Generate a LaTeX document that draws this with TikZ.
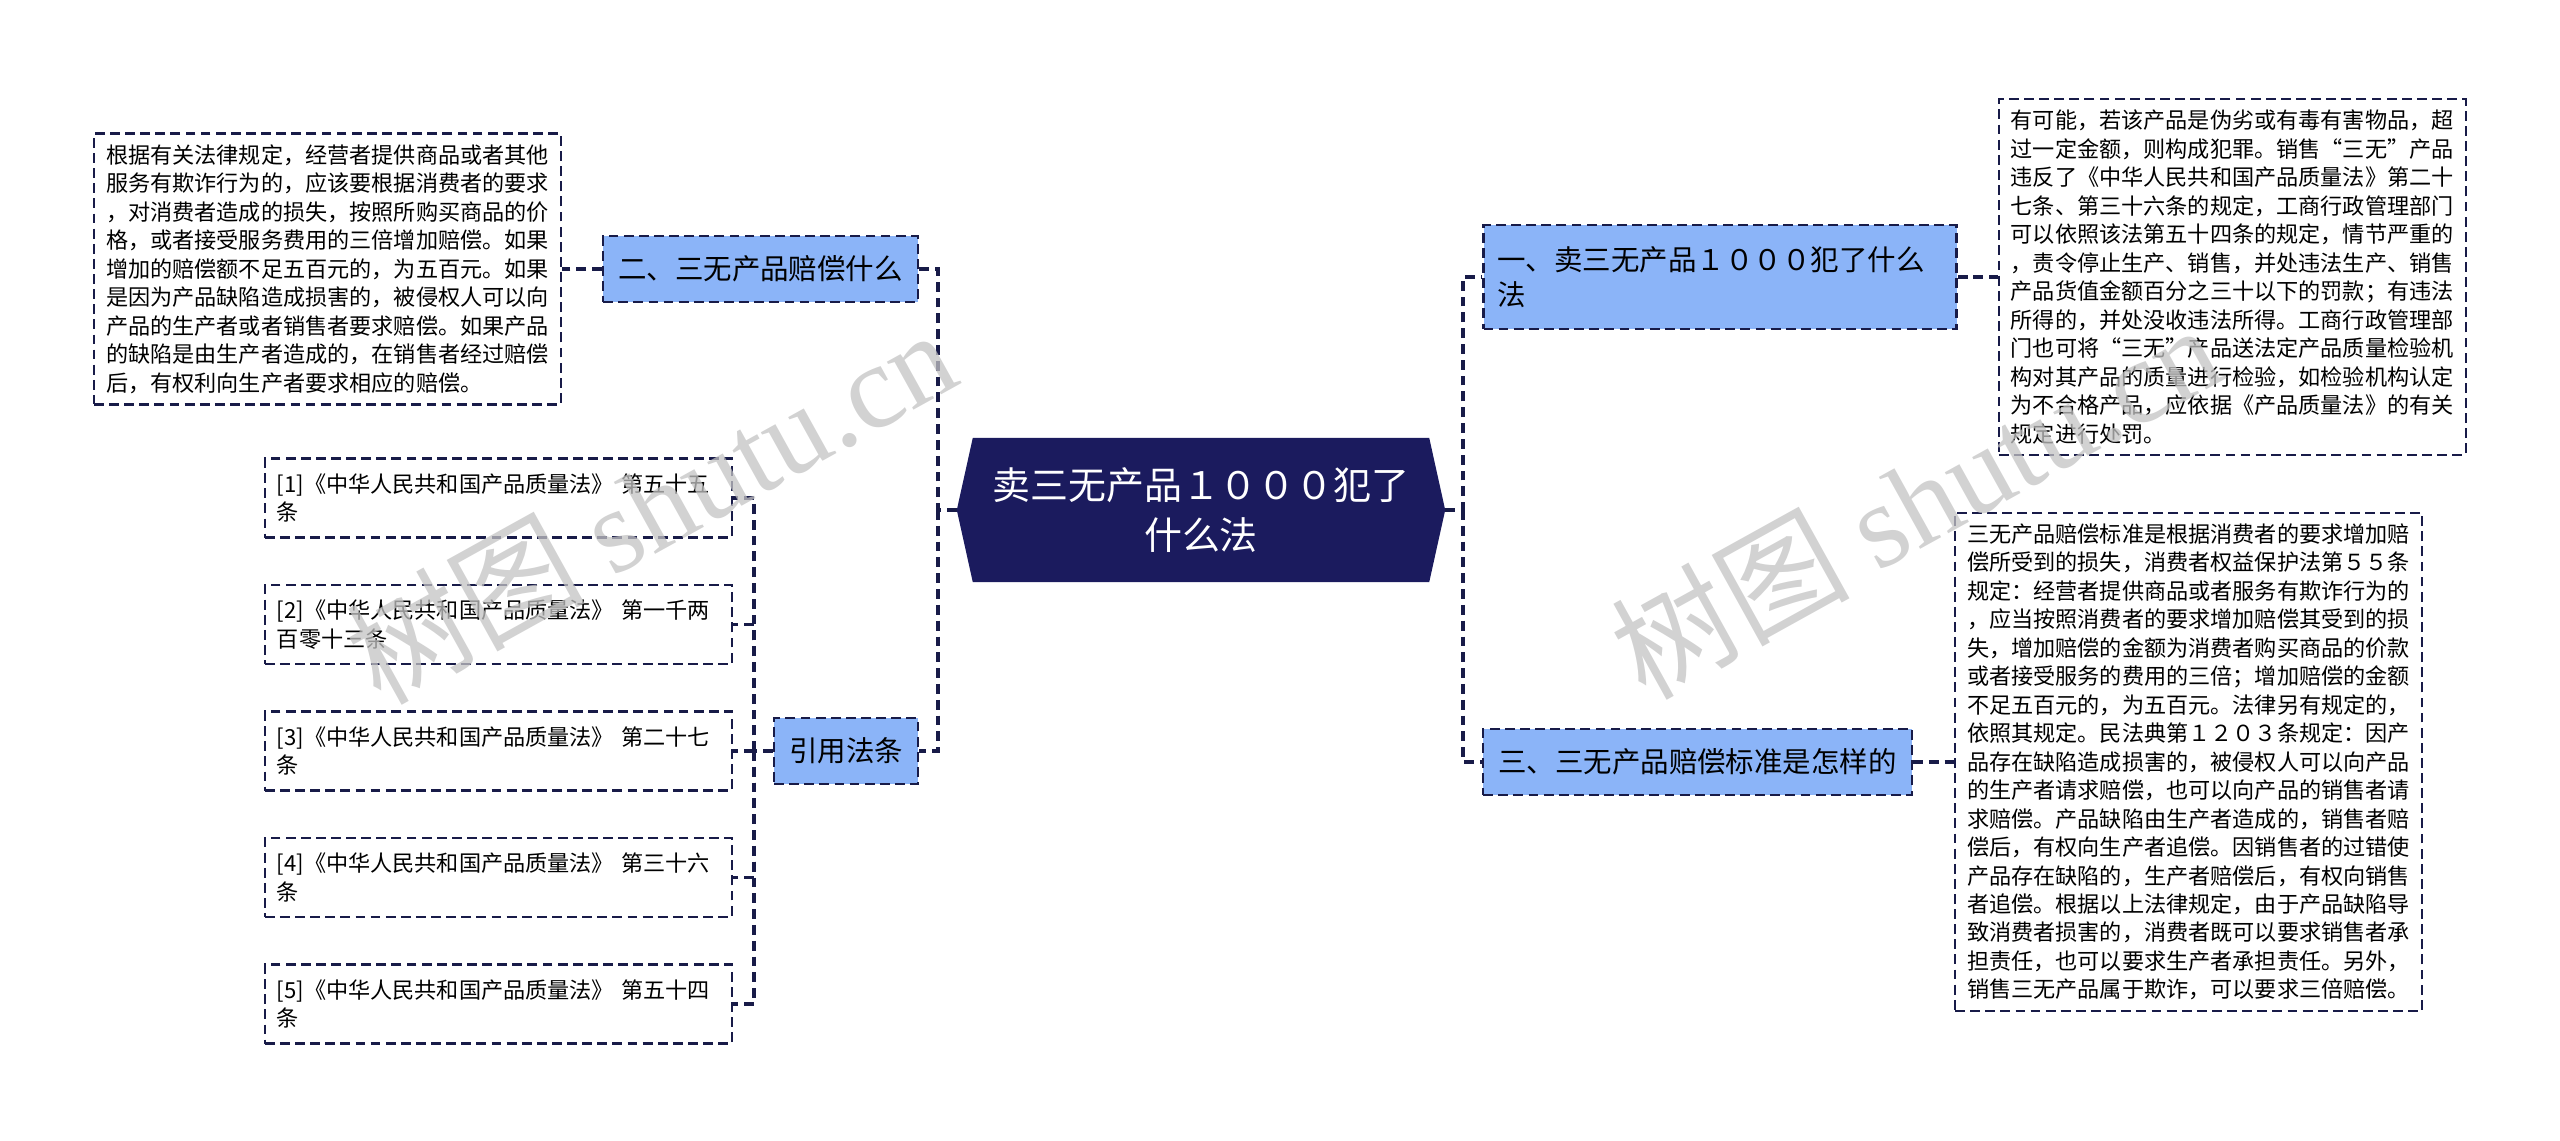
\documentclass[tikz,border=0pt]{standalone}
\usepackage{fontspec}
\setmainfont{Noto Sans CJK SC}
\newfontfamily\markfont{Liberation Serif}
\usetikzlibrary{calc, backgrounds}
\definecolor{cNavy} {RGB}{ 27, 27, 94}
\definecolor{cLine} {RGB}{ 24, 27, 72}
\definecolor{cTopic}{RGB}{139,180,248}
\definecolor{cMark} {RGB}{195,195,195}

\begin{document}
\begin{tikzpicture}[
  x=1cm, y=-1cm,
  %% dashed connector
  link/.style={
    draw=cLine, line width=0.9pt, dash pattern=on 2.8pt off 1.7pt
  },
  %% blue topic box
  topic/.style={
    draw=cLine, line width=0.65pt, dash pattern=on 2.8pt off 1.5pt,
    fill=cTopic, inner xsep=0.15cm, minimum height=0.66cm,
    font=\fontsize{8.1}{10}\selectfont, align=left
  },
  %% dashed text box
  note/.style={
    draw=cLine, line width=0.65pt, dash pattern=on 2.8pt off 1.5pt,
    fill=white, inner xsep=0.12cm, inner ysep=0.11cm,
    font=\fontsize{6.3}{8.1}\selectfont, align=left
  },
  wmark/.style={
    text=cMark, opacity=0.75, font=\fontsize{34}{34}\selectfont
  },
]
\useasboundingbox (0,0) rectangle (25.6,11.4);

%% ── Root ─────────────────────────────────────────────────────────────────────
\def\tip{0.16}     % how far the side points stick out (cm)

\node[minimum width=4.87cm, minimum height=1.43cm, align=center,
      text=white, font=\fontsize{10.8}{14.2}\selectfont]
  (root) at (12.01,5.10) {卖三无产品１０００犯了\\什么法};
\begin{scope}[on background layer]
  \fill[cNavy] (root.west)
    -- ([xshift=\tip cm]root.north west) -- ([xshift=-\tip cm]root.north east)
    -- (root.east)
    -- ([xshift=-\tip cm]root.south east) -- ([xshift=\tip cm]root.south west)
    -- cycle;
\end{scope}

%% ── Topics ───────────────────────────────────────────────────────────────────
\node[topic, text width=4.45cm, minimum height=1.04cm, inner xsep=0.14cm]
  (t1) at (17.20,2.77) {一、卖三无产品１０００犯了什么\\法};
\node[topic] (t2) at (7.605,2.69) {二、三无产品赔偿什么};
\node[topic] (t3) at (16.975,7.62) {三、三无产品赔偿标准是怎样的};
\node[topic] (t4) at (8.46,7.51) {引用法条};

%% ── Text boxes ───────────────────────────────────────────────────────────────
\node[note, anchor=west] (d1) at ([xshift=0.40cm]t1.east) {%
有可能，若该产品是伪劣或有毒有害物品，超\\
过一定金额，则构成犯罪。销售“三无”产品\\
违反了《中华人民共和国产品质量法》第二十\\
七条、第三十六条的规定，工商行政管理部门\\
可以依照该法第五十四条的规定，情节严重的\\
，责令停止生产、销售，并处违法生产、销售\\
产品货值金额百分之三十以下的罚款；有违法\\
所得的，并处没收违法所得。工商行政管理部\\
门也可将“三无”产品送法定产品质量检验机\\
构对其产品的质量进行检验，如检验机构认定\\
为不合格产品，应依据《产品质量法》的有关\\
规定进行处罚。};

\node[note, anchor=east] (d2) at ([xshift=-0.40cm]t2.west) {%
根据有关法律规定，经营者提供商品或者其他\\
服务有欺诈行为的，应该要根据消费者的要求\\
，对消费者造成的损失，按照所购买商品的价\\
格，或者接受服务费用的三倍增加赔偿。如果\\
增加的赔偿额不足五百元的，为五百元。如果\\
是因为产品缺陷造成损害的，被侵权人可以向\\
产品的生产者或者销售者要求赔偿。如果产品\\
的缺陷是由生产者造成的，在销售者经过赔偿\\
后，有权利向生产者要求相应的赔偿。};

\node[note, anchor=west] (d3) at ([xshift=0.41cm]t3.east) {%
三无产品赔偿标准是根据消费者的要求增加赔\\
偿所受到的损失，消费者权益保护法第５５条\\
规定：经营者提供商品或者服务有欺诈行为的\\
，应当按照消费者的要求增加赔偿其受到的损\\
失，增加赔偿的金额为消费者购买商品的价款\\
或者接受服务的费用的三倍；增加赔偿的金额\\
不足五百元的，为五百元。法律另有规定的，\\
依照其规定。民法典第１２０３条规定：因产\\
品存在缺陷造成损害的，被侵权人可以向产品\\
的生产者请求赔偿，也可以向产品的销售者请\\
求赔偿。产品缺陷由生产者造成的，销售者赔\\
偿后，有权向生产者追偿。因销售者的过错使\\
产品存在缺陷的，生产者赔偿后，有权向销售\\
者追偿。根据以上法律规定，由于产品缺陷导\\
致消费者损害的，消费者既可以要求销售者承\\
担责任，也可以要求生产者承担责任。另外，\\
销售三无产品属于欺诈，可以要求三倍赔偿。};

%% ── Cited articles ───────────────────────────────────────────────────────────
\coordinate (jc) at (7.54,7.51);
\foreach \i/\a/\b in {1/第五十五/条, 2/第一千两/百零十三条, 3/第二十七/条,
                      4/第三十六/条, 5/第五十四/条}{
  \node[note, anchor=east, text width=4.43cm, minimum height=0.79cm]
    (c\i) at (7.33,{4.98+(\i-1)*1.265}) {[\i]《中华人民共和国产品质量法》 \a\\\b};
  \draw[link] (jc) |- (c\i.east);
}

%% ── Connectors ───────────────────────────────────────────────────────────────
\coordinate (jl) at (9.38,5.10);
\coordinate (jr) at (14.63,5.10);

\draw[link] (root.west) -- (jl) |- (t2.east);
\draw[link] (jl) |- (t4.east);
\draw[link] (root.east) -- (jr) |- (t1.west);
\draw[link] (jr) |- (t3.west);

\draw[link] (t4.west) -- (jc);
\draw[link] (t1.east) -- (d1.west);
\draw[link] (t2.west) -- (d2.east);
\draw[link] (t3.east) -- (d3.west);

%% ── Watermarks ───────────────────────────────────────────────────────────────
\node[wmark, rotate=29] (m1) at (6.50,5.05) {树图 {\markfont shutu.cn}};
\node[wmark, rotate=29] (m2) at (19.15,5.00) {树图 {\markfont shutu.cn}};

\end{tikzpicture}
\end{document}
